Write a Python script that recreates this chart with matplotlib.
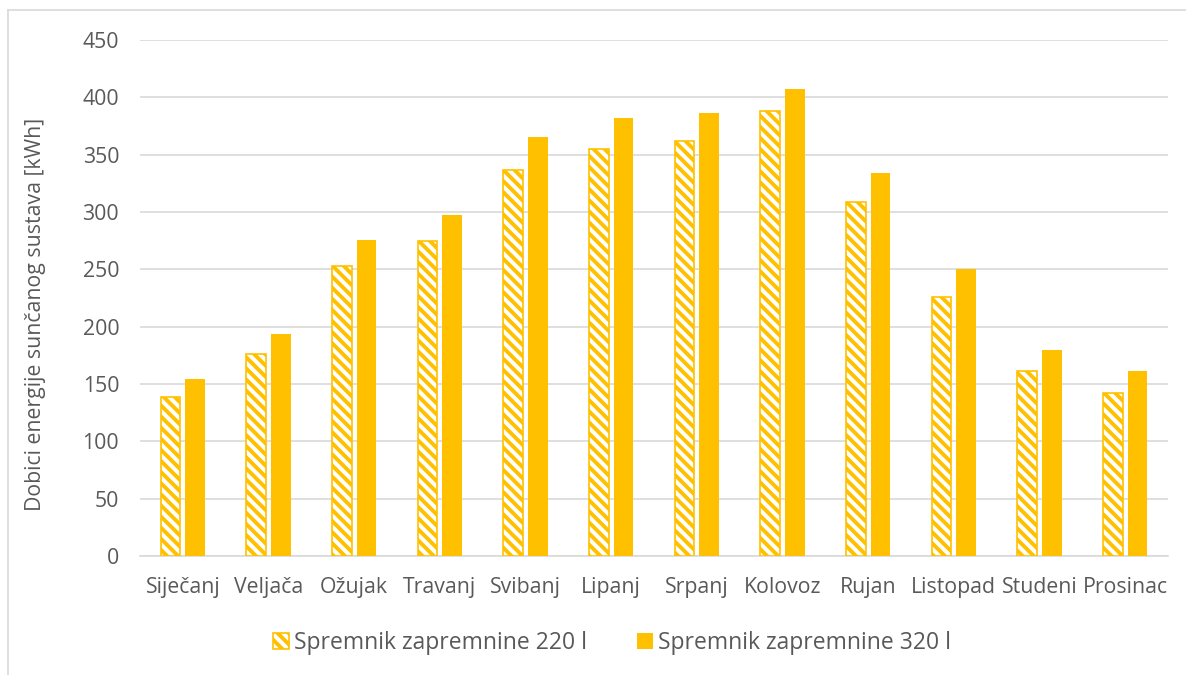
import numpy as np
import matplotlib.pyplot as plt
from matplotlib.lines import Line2D

months = ["Siječanj", "Veljača", "Ožujak", "Travanj", "Svibanj", "Lipanj",
          "Srpanj", "Kolovoz", "Rujan", "Listopad", "Studeni", "Prosinac"]
tank_220 = [139, 176, 253, 275, 337, 355, 362, 388, 309, 226, 161, 142]
tank_320 = [154, 194, 276, 297, 365, 382, 386, 407, 334, 250, 180, 161]
labels = ["Spremnik zapremnine 220 l", "Spremnik zapremnine 320 l"]

yellow = "#FFC000"
txt = "#595959"
plt.rcParams['font.family'] = ['Open Sans', 'DejaVu Sans']
plt.rcParams['hatch.linewidth'] = 2.8

fig = plt.figure(figsize=(11.86, 6.75), dpi=100)
ax = fig.add_axes([140/1186, 1 - 556/675, 1028/1186, 516/675])

x = np.arange(len(months))
w = 0.23
ax.bar(x - 0.145, tank_220, w, facecolor="white", edgecolor=yellow,
       hatch="\\\\\\", linewidth=1.2, label=labels[0], zorder=3)
ax.bar(x + 0.145, tank_320, w, color=yellow, label=labels[1], zorder=3)

ax.set_xlim(-0.5, len(months) - 0.5)
ax.set_ylim(0, 450)
ax.set_yticks(range(0, 451, 50))
ax.set_xticks(x)
ax.set_xticklabels(months)
ax.yaxis.grid(True, color="#D9D9D9", linewidth=1.2, zorder=0)
for s in ["top", "right", "left"]:
    ax.spines[s].set_visible(False)
ax.spines["bottom"].set_color("#D9D9D9")
ax.spines["bottom"].set_linewidth(1.2)
ax.tick_params(axis="both", length=0, labelsize=15.3, colors=txt)
ax.tick_params(axis="y", pad=15)
ax.tick_params(axis="x", pad=15)
ax.set_ylabel("Dobici energije sunčanog sustava [kWh]", fontsize=15.3,
              color=txt)
ax.yaxis.set_label_coords(-0.091, 0.469)

leg = ax.legend(loc="upper center", bbox_to_anchor=(0.459, -0.105), ncol=2,
                frameon=False, fontsize=16.5, handlelength=0.7,
                handleheight=0.7, handletextpad=0.2, columnspacing=2.2)
for t in leg.get_texts():
    t.set_color(txt)

# outer chart border (top and left only visible)
fig.add_artist(Line2D([8/1186, 1], [1 - 9.5/675] * 2, color="#D9D9D9", lw=1.2))
fig.add_artist(Line2D([7.5/1186] * 2, [0, 1 - 9.5/675], color="#D9D9D9", lw=1.2))

fig.savefig("out.png", dpi=100)
